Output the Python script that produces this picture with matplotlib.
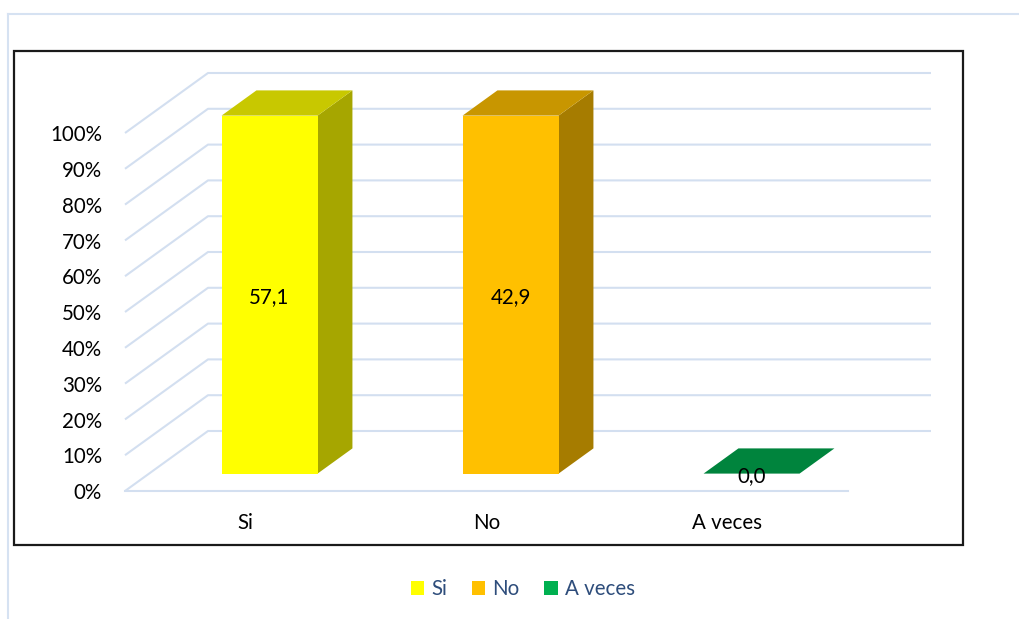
import numpy as np
import matplotlib.pyplot as plt
from matplotlib.patches import Polygon, Rectangle, Patch
from matplotlib.lines import Line2D

# survey answers (percent of respondents)
categories = ["Si", "No", "A veces"]
values = [57.1, 42.9, 0.0]
value_labels = ["57,1", "42,9", "0,0"]
yticks = [0, 10, 20, 30, 40, 50, 60, 70, 80, 90, 100]
ytick_labels = [f"{t}%" for t in yticks]

front_cols = ["#FFFF00", "#FFC000", "#00B050"]
side_cols = ["#A6A600", "#A67C00", "#00803A"]
top_cols = ["#C8C800", "#C89600", "#00843D"]
grid_col = "#D3DFF0"

# 100% stacked columns: one series per category, each column normalised by its total
series = np.diag(values)
totals = series.sum(axis=0)
share = np.divide(series, totals, out=np.zeros_like(series), where=totals > 0) * 100
heights = share.diagonal()

W, H = 1019, 619
fig = plt.figure(figsize=(W / 100, H / 100), dpi=100)
plt.rcParams["font.family"] = ["Lato", "DejaVu Sans"]
FS = 14.8

# axes spans the whole figure; data units chosen so the floor front edge is x 0..3
px_x = 241.0   # pixels per category
px_y = 3.58    # pixels per percent
x0_px, y0_px = 125, 491
ax = fig.add_axes([0, 0, 1, 1])
ax.set_xlim(-x0_px / px_x, (W - x0_px) / px_x)
ax.set_ylim(-(H - y0_px) / px_y, y0_px / px_y)
ax.axis("off")

# oblique depth offset for one full unit of depth
DX = 83 / px_x
DY = 60 / px_y


def proj(x, y, d):
    return (x + d * DX, y + d * DY)


n = len(categories)

# walls: back and left side gridlines, floor front edge
for t in yticks:
    xs, ys = zip(proj(0, t, 0), proj(0, t, 1), proj(n, t, 1))
    ax.plot(xs, ys, color=grid_col, lw=1.5, zorder=1, solid_capstyle="butt")
xs, ys = zip(proj(0, 0, 0), proj(n, 0, 0))
ax.plot(xs, ys, color=grid_col, lw=1.5, zorder=1)

bar_w = 96 / px_x
d0, d1 = 0.29, 0.71
for i, h in enumerate(heights):
    xa = i + 0.5 - bar_w / 2
    xb = i + 0.5 + bar_w / 2
    side = [proj(xb, 0, d0), proj(xb, 0, d1), proj(xb, h, d1), proj(xb, h, d0)]
    top = [proj(xa, h, d0), proj(xb, h, d0), proj(xb, h, d1), proj(xa, h, d1)]
    front = [proj(xa, 0, d0), proj(xb, 0, d0), proj(xb, h, d0), proj(xa, h, d0)]
    if h > 0:
        ax.add_patch(Polygon(side, closed=True, fc=side_cols[i], ec="none", zorder=3))
        ax.add_patch(Polygon(front, closed=True, fc=front_cols[i], ec="none", zorder=4))
    ax.add_patch(Polygon(top, closed=True, fc=top_cols[i], ec="none", zorder=3))
    cx, cy = proj(i + 0.5, h / 2, d0)
    ax.text(cx, cy - 0.6, value_labels[i], ha="center", va="center",
            fontsize=FS, color="black", zorder=5)

# axis labels
for t, lab in zip(yticks, ytick_labels):
    ax.text(-0.095, t - 0.6, lab, ha="right", va="center", fontsize=FS, color="black")
for i, c in enumerate(categories):
    ax.text(i + 0.5, -9, c, ha="center", va="center", fontsize=FS, color="black")

# legend
handles = [Patch(fc=front_cols[i], ec="none") for i in range(n)]
fig.legend(handles, categories, ncol=3, loc="center",
           bbox_to_anchor=(0.513, 1 - 589 / H), frameon=False, fontsize=FS,
           labelcolor="#2E4D7B", handlelength=0.65, handleheight=0.65,
           handletextpad=0.35, columnspacing=1.2)

# plot area frame and chart area border
fig.patches.append(Rectangle((14 / W, 1 - 545 / H), (963 - 14) / W, (545 - 51) / H,
                             transform=fig.transFigure, fill=False,
                             ec="#1A1A1A", lw=1.6))
fig.lines.append(Line2D([8 / W, 1], [1 - 14 / H, 1 - 14 / H],
                        transform=fig.transFigure, color="#D6E2F2", lw=1.5))
fig.lines.append(Line2D([8 / W, 8 / W], [0, 1 - 14 / H],
                        transform=fig.transFigure, color="#D6E2F2", lw=1.5))

fig.savefig("out.png", dpi=100, facecolor="white")
